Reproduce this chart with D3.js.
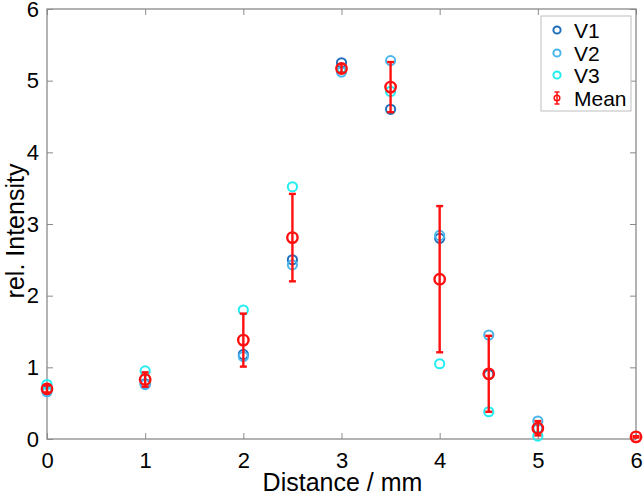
<!DOCTYPE html>
<html>
<head>
<meta charset="utf-8">
<script src="https://cdn.jsdelivr.net/npm/d3@7"></script>
<style>
  body { margin: 0; background: #fff; }
  text { font-family: "Liberation Sans", Arial, sans-serif; }
</style>
</head>
<body>
<svg id="chart"></svg>
<script>
var windowSize = { width: 644, height: 497 };

// distances (mm)
var distance = [0, 1, 2, 2.5, 3, 3.5, 4, 4.5, 5, 6];
var v1 = [0.68, 0.77, 1.18, 2.50, 5.25, 4.60, 2.80, 0.90, 0.15, null];
var v2 = [0.66, 0.76, 1.15, 2.43, 5.12, 5.28, 2.84, 1.45, 0.25, null];
var v3 = [0.76, 0.95, 1.80, 3.52, 5.18, 4.85, 1.05, 0.38, 0.04, null];
var meanVal = [0.70, 0.83, 1.38, 2.81, 5.17, 4.91, 2.23, 0.91, 0.15, 0.03];
var meanErr = [0.05, 0.10, 0.37, 0.61, 0.06, 0.35, 1.02, 0.53, 0.10, 0.01];

var xTicks = [0, 1, 2, 3, 4, 5, 6];
var yTicks = [0, 1, 2, 3, 4, 5, 6];

var seriesNames = ["V1", "V2", "V3"];
var seriesColors = ["#1f6fbd", "#4cb6ec", "#22eef2"];
var meanColor = "#ff1010";

var margin = { left: 47, right: 8, top: 9, bottom: 58 };
var plotW = windowSize.width - margin.left - margin.right;
var plotH = windowSize.height - margin.top - margin.bottom;

var svg = d3.select('#chart')
  .attr('width', windowSize.width)
  .attr('height', windowSize.height);

var x = d3.scaleLinear().domain([0, 6]).range([margin.left, margin.left + plotW]);
var y = d3.scaleLinear().domain([0, 6]).range([margin.top + plotH, margin.top]);

var axisColor = "#8a8a8a";
var tickLen = 6;

// frame
svg.append('rect')
  .attr('x', x(0)).attr('y', y(6))
  .attr('width', x(6) - x(0)).attr('height', y(0) - y(6))
  .attr('fill', 'none').attr('stroke', axisColor).attr('stroke-width', 1.3);

// axes with inward ticks
function styleAxis(g) {
  g.select('.domain').remove();
  g.selectAll('.tick line').attr('stroke', axisColor).attr('stroke-width', 1);
  g.selectAll('.tick text').attr('fill', '#000').attr('font-size', 22);
}

svg.append('g')
  .attr('transform', 'translate(0,' + y(0) + ')')
  .call(d3.axisBottom(x).tickValues(xTicks).tickFormat(d3.format('d'))
    .tickSizeInner(-tickLen).tickSizeOuter(0).tickPadding(13))
  .call(styleAxis);

svg.append('g')
  .attr('transform', 'translate(' + x(0) + ',0)')
  .call(d3.axisLeft(y).tickValues(yTicks).tickFormat(d3.format('d'))
    .tickSizeInner(-tickLen).tickSizeOuter(0).tickPadding(8))
  .call(styleAxis);

svg.append('g')
  .attr('transform', 'translate(0,' + y(6) + ')')
  .call(d3.axisTop(x).tickValues(xTicks).tickFormat('')
    .tickSizeInner(-tickLen).tickSizeOuter(0))
  .call(styleAxis);

svg.append('g')
  .attr('transform', 'translate(' + x(6) + ',0)')
  .call(d3.axisRight(y).tickValues(yTicks).tickFormat('')
    .tickSizeInner(-tickLen).tickSizeOuter(0))
  .call(styleAxis);

// axis titles
svg.append('text')
  .attr('x', (x(0) + x(6)) / 2 + 1).attr('y', 491)
  .attr('text-anchor', 'middle').attr('font-size', 25)
  .text('Distance / mm');

svg.append('text')
  .attr('transform', 'translate(24,231) rotate(-90)')
  .attr('text-anchor', 'middle').attr('font-size', 25)
  .text('rel. Intensity');

// series points
var markerR = 4.6;
[v1, v2, v3].forEach(function(vals, i) {
  var pts = distance.map(function(d, j) { return { x: d, y: vals[j] }; })
    .filter(function(p) { return p.y != null; });
  svg.append('g').selectAll('circle')
    .data(pts)
    .enter().append('circle')
      .attr('cx', function(d) { return x(d.x); })
      .attr('cy', function(d) { return y(d.y); })
      .attr('r', markerR)
      .attr('fill', 'none')
      .attr('stroke', seriesColors[i])
      .attr('stroke-width', 2);
});

// mean with error bars
var meanData = distance.map(function(d, j) { return { x: d, y: meanVal[j], e: meanErr[j] }; });
var mg = svg.append('g');
var capW = 3.5;
var eb = mg.selectAll('g.eb').data(meanData).enter().append('g').attr('class', 'eb');
eb.append('line')
  .attr('x1', function(d) { return x(d.x); }).attr('x2', function(d) { return x(d.x); })
  .attr('y1', function(d) { return y(d.y - d.e); }).attr('y2', function(d) { return y(d.y + d.e); })
  .attr('stroke', meanColor).attr('stroke-width', 2.4);
eb.append('line')
  .attr('x1', function(d) { return x(d.x) - capW; }).attr('x2', function(d) { return x(d.x) + capW; })
  .attr('y1', function(d) { return y(d.y + d.e); }).attr('y2', function(d) { return y(d.y + d.e); })
  .attr('stroke', meanColor).attr('stroke-width', 2.4);
eb.append('line')
  .attr('x1', function(d) { return x(d.x) - capW; }).attr('x2', function(d) { return x(d.x) + capW; })
  .attr('y1', function(d) { return y(d.y - d.e); }).attr('y2', function(d) { return y(d.y - d.e); })
  .attr('stroke', meanColor).attr('stroke-width', 2.4);
eb.append('circle')
  .attr('cx', function(d) { return x(d.x); })
  .attr('cy', function(d) { return y(d.y); })
  .attr('r', 5.2)
  .attr('fill', 'none')
  .attr('stroke', meanColor)
  .attr('stroke-width', 2.4);

// legend
var lg = svg.append('g').attr('transform', 'translate(541,16)');
lg.append('rect')
  .attr('width', 90).attr('height', 95)
  .attr('fill', '#fff').attr('stroke', '#bdbdbd').attr('stroke-width', 1);
var rowY = [14, 37, 59, 82];
seriesNames.forEach(function(name, i) {
  lg.append('circle')
    .attr('cx', 16).attr('cy', rowY[i])
    .attr('r', 3.6).attr('fill', 'none')
    .attr('stroke', seriesColors[i]).attr('stroke-width', 2);
  lg.append('text')
    .attr('x', 33).attr('y', rowY[i] + 7.5)
    .attr('font-size', 21).text(name);
});
var my = rowY[3];
lg.append('line').attr('x1', 16).attr('x2', 16).attr('y1', my - 6).attr('y2', my + 6)
  .attr('stroke', meanColor).attr('stroke-width', 1.5);
lg.append('line').attr('x1', 13.5).attr('x2', 18.5).attr('y1', my - 6).attr('y2', my - 6)
  .attr('stroke', meanColor).attr('stroke-width', 1.5);
lg.append('line').attr('x1', 13.5).attr('x2', 18.5).attr('y1', my + 6).attr('y2', my + 6)
  .attr('stroke', meanColor).attr('stroke-width', 1.5);
lg.append('circle').attr('cx', 16).attr('cy', my).attr('r', 2.8)
  .attr('fill', 'none').attr('stroke', meanColor).attr('stroke-width', 1.5);
lg.append('text').attr('x', 33).attr('y', my + 7.5).attr('font-size', 21).text('Mean');
</script>
</body>
</html>
